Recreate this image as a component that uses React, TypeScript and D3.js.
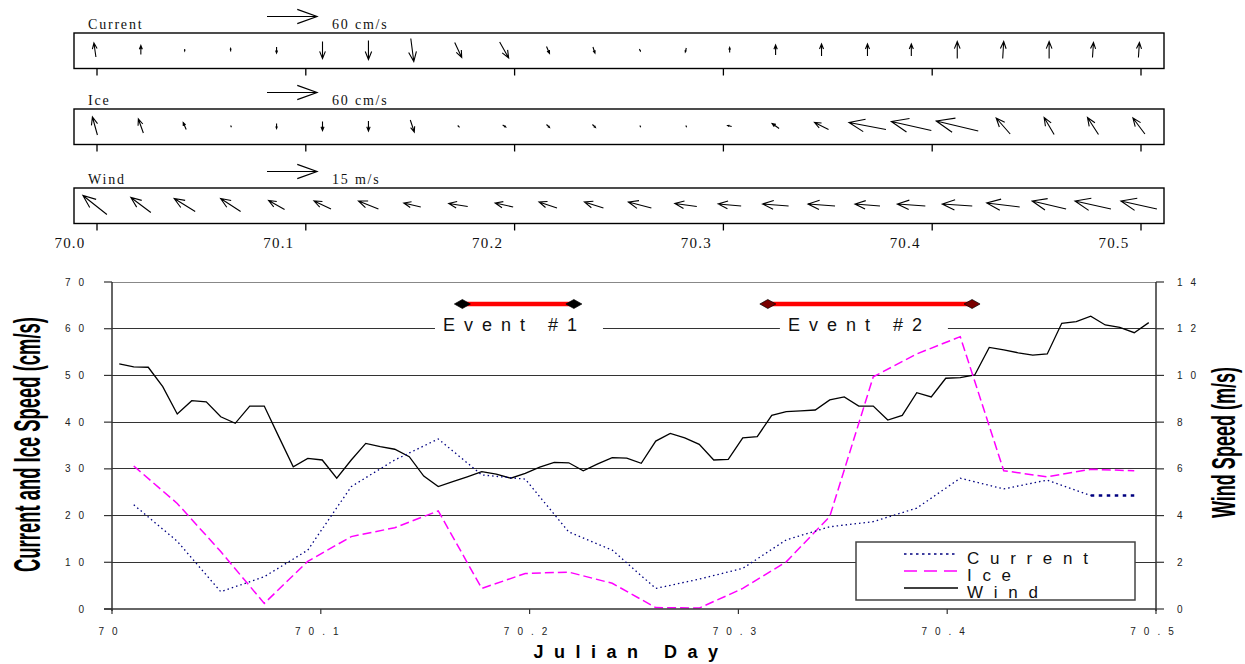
import React from 'react';
import * as d3 from 'd3';

// ---- top panels: stick vectors ----
// Julian day of each vector
const vectorDays = [
  69.999, 70.021, 70.042, 70.064, 70.086, 70.108, 70.13, 70.151, 70.173, 70.195, 70.216, 70.238,
  70.26, 70.282, 70.303, 70.325, 70.347, 70.369, 70.39, 70.412, 70.434, 70.456, 70.477, 70.499,
];
// east / north components (cm/s)
const currentU = [-2.4, 0, 0, 0, 0, 0, 0, 3.6, 8.4, 10.8, 3.6, 2.4, 1.2, -1.2, 0, 0, 0, 0, 0, 0, 1.2, 0, 1.2, 1.2];
const currentV = [16.8, 10.8, -2.4, 3.6, -7.2, -20.4, -22.8, -27.6, -18, -19.2, -8.4, -7.2, -2.4, -4.8, 6, 12, 14.4, 14.4, 14.4, 20.4, 20.4, 20.4, 18, 18];
const iceU = [-6, -6, -3.6, 0, 0, 0, 0, 4.8, 1.2, 3.6, 3.6, 3.6, 0, 0, -4.8, -8.4, -16.8, -44.4, -48, -50.4, -16.8, -12, -13.2, -14.4];
const iceV = [21.6, 16.8, 8.4, -1.2, -6, -10.8, -12, -14.4, -1.2, -2.4, -3.6, -3.6, -1.2, -1.2, 1.2, 6, 8.4, 8.4, 10.8, 12, 19.2, 20.4, 20.4, 19.2];
// east / north components (m/s)
const windU = [-7.2, -6, -6.3, -6, -4.8, -5.1, -6, -5.1, -5.7, -5.4, -5.4, -5.7, -6.9, -6.6, -6.9, -7.8, -8.1, -7.5, -8.4, -9, -9.9, -10.2, -10.8, -10.8];
const windV = [5.7, 4.5, 3.9, 3.9, 2.7, 2.4, 2.4, 1.2, 0.9, 1.2, 1.8, 1.8, 1.8, 0.9, 0.6, 0.6, 0.6, 0.6, 0.6, 0.6, 1.2, 2.4, 2.4, 2.4];

const topTicks = [70.0, 70.1, 70.2, 70.3, 70.4, 70.5];

// ---- bottom chart ----
// minutes after day 70.0
const speedMinutes = [15, 45, 75, 105, 135, 165, 195, 225, 255, 285, 315, 345, 375, 405, 435, 465, 495, 525, 555, 585, 615, 645, 675, 705];
const currentSpeed = [22.3, 14.5, 3.7, 6.9, 12.6, 26.2, 31.9, 36.4, 28.7, 27.8, 16.5, 12.6, 4.4, 6.4, 8.7, 14.8, 17.6, 18.7, 21.6, 28.0, 25.7, 27.6, 24.3, 24.3];
const iceSpeed = [30.6, 22.6, 12.3, 1.2, 10.2, 15.5, 17.4, 21.0, 4.4, 7.6, 7.9, 5.5, 0.3, 0.2, 4.4, 10.1, 19.8, 49.7, 54.6, 58.3, 29.6, 28.3, 29.9, 29.6];

const windMinutes = [
  5, 15, 25, 35, 45, 55, 65, 75, 85, 95,
  105, 115, 125, 135, 145, 155, 165, 175, 185, 195,
  205, 215, 225, 235, 245, 255, 265, 275, 285, 295,
  305, 315, 325, 335, 345, 355, 365, 375, 385, 395,
  405, 415, 425, 435, 445, 455, 465, 475, 485, 495,
  505, 515, 525, 535, 545, 555, 565, 575, 585, 595,
  605, 615, 625, 635, 645, 655, 665, 675, 685, 695,
  705, 715,
];
const windSpeed = [
  10.49, 10.37, 10.35, 9.52, 8.35, 8.92, 8.87, 8.23, 7.95, 8.69,
  8.69, 7.38, 6.09, 6.45, 6.38, 5.6, 6.38, 7.09, 6.95, 6.84,
  6.52, 5.69, 5.24, 5.45, 5.66, 5.88, 5.77, 5.6, 5.81, 6.07,
  6.28, 6.26, 5.92, 6.21, 6.48, 6.46, 6.24, 7.19, 7.52, 7.33,
  7.05, 6.38, 6.41, 7.33, 7.38, 8.29, 8.45, 8.48, 8.52, 8.95,
  9.08, 8.69, 8.69, 8.09, 8.29, 9.26, 9.08, 9.88, 9.91, 10.02,
  11.2, 11.09, 10.97, 10.87, 10.92, 12.23, 12.3, 12.54, 12.16, 12.06,
  11.83, 12.26,
];

const leftTicks = [0, 10, 20, 30, 40, 50, 60, 70];
const rightTicks = [0, 2, 4, 6, 8, 10, 12, 14];
const bottomTicks = [70.0, 70.1, 70.2, 70.3, 70.4, 70.5];
const bottomTickLabels = ['70', '70.1', '70.2', '70.3', '70.4', '70.5'];

const eventLabels = ['Event #1', 'Event #2'];
const eventStart = [70.1678, 70.3141];
const eventEnd = [70.2212, 70.4119];
const eventLabelDay = [70.1906, 70.3558];

const serif = '"Liberation Serif", "Times New Roman", serif';
const sans = '"Liberation Sans", Arial, sans-serif';
const narrow = '"Liberation Sans Narrow", "Arial Narrow", "Liberation Sans", sans-serif';
const capColors = ['#000000', '#7a0000'];

const xTop = d3.scaleLinear().domain([70, 70.5]).range([97, 1141]);
const x = d3.scaleLinear().domain([70, 70.5]).range([112, 1156]);
const yLeft = d3.scaleLinear().domain([0, 70]).range([609, 282]);
const yRight = d3.scaleLinear().domain([0, 14]).range([609, 282]);
const cmsPx = d3.scaleLinear().domain([0, 60]).range([0, 50]);
const msPx = d3.scaleLinear().domain([0, 15]).range([0, 50]);

const dayOf = (m: number) => 70 + m / 1440;

function arrowPath(x0: number, y0: number, x1: number, y1: number, frac = 0.45, deg = 22) {
  const dx = x1 - x0;
  const dy = y1 - y0;
  const len = Math.hypot(dx, dy);
  if (len < 1.5) return `M${x0},${y0}L${x1 + 0.8},${y1 + 0.8}`;
  const a = Math.atan2(dy, dx);
  const h = len * frac;
  const r = (deg * Math.PI) / 180;
  const p = d3.path();
  p.moveTo(x0, y0);
  p.lineTo(x1, y1);
  p.moveTo(x1 - h * Math.cos(a - r), y1 - h * Math.sin(a - r));
  p.lineTo(x1, y1);
  p.lineTo(x1 - h * Math.cos(a + r), y1 - h * Math.sin(a + r));
  return p.toString();
}

const panels = [
  { label: 'Current', u: currentU, v: currentV, px: cmsPx, ref: 60, refLabel: '60 cm/s', top: 33 },
  { label: 'Ice', u: iceU, v: iceV, px: cmsPx, ref: 60, refLabel: '60 cm/s', top: 109 },
  { label: 'Wind', u: windU, v: windV, px: msPx, ref: 15, refLabel: '15 m/s', top: 188 },
];

const App: React.FC = () => {
  const boxH = 35.5;
  const speedLine = d3
    .line<number>()
    .x((_, i) => x(dayOf(speedMinutes[i])))
    .y((d) => yLeft(d));
  const windLine = d3
    .line<number>()
    .x((_, i) => x(dayOf(windMinutes[i])))
    .y((d) => yRight(d));
  const n = currentSpeed.length;
  const tailLine = d3
    .line<number>()
    .x((_, i) => x(dayOf(speedMinutes[n - 2 + i])))
    .y((d) => yLeft(d));

  return (
    <svg width={1245} height={664} style={{ position: 'absolute', left: 0, top: 0, background: '#fff' }}>
      {/* top stick-vector panels */}
      {panels.map((pn, pi) => {
        const cy = pn.top + 17;
        const ay = pn.top - 16.5;
        return (
          <g key={pn.label}>
            <text x={88} y={pn.top - 4.5} fontFamily={serif} fontSize={14} letterSpacing={1.8} fill="#111">
              {pn.label}
            </text>
            <path d={arrowPath(267, ay, 267 + pn.px(pn.ref), ay, 0.42, 20)} stroke="#000" strokeWidth={1.2} fill="none" />
            <text x={332} y={pn.top - 4.5} fontFamily={serif} fontSize={14} letterSpacing={1.8} fill="#111">
              {pn.refLabel}
            </text>
            <rect x={74} y={pn.top} width={1090} height={boxH} fill="none" stroke="#000" strokeWidth={1.4} />
            {topTicks.map((t) => (
              <line key={t} x1={xTop(t)} x2={xTop(t)} y1={pn.top + boxH} y2={pn.top + boxH + 7} stroke="#000" strokeWidth={1.3} />
            ))}
            {vectorDays.map((t, i) => {
              const dx = pn.px(pn.u[i]);
              const dy = -pn.px(pn.v[i]);
              const cx = xTop(t);
              return (
                <path
                  key={i}
                  d={arrowPath(cx - dx / 2, cy - dy / 2, cx + dx / 2, cy + dy / 2)}
                  stroke="#000"
                  strokeWidth={1.1}
                  fill="none"
                />
              );
            })}
            {pi === 2 &&
              topTicks.map((t) => (
                <text key={t} x={xTop(t) - 27} y={248} textAnchor="middle" fontFamily={serif} fontSize={15} letterSpacing={1.2} fill="#111">
                  {t.toFixed(1)}
                </text>
              ))}
          </g>
        );
      })}

      {/* bottom chart gridlines */}
      {leftTicks.slice(1).map((v) => (
        <line key={v} x1={112} x2={1156} y1={yLeft(v)} y2={yLeft(v)} stroke={v === 70 ? '#888' : '#333'} strokeWidth={1} shapeRendering="crispEdges" />
      ))}

      {/* events */}
      {eventLabels.map((lab, i) => {
        const cx = x(eventLabelDay[i]);
        const x0 = x(eventStart[i]);
        const x1 = x(eventEnd[i]);
        const diamond = 'M-8,0L0,-4.5L8,0L0,4.5Z';
        return (
          <g key={lab}>
            <rect x={cx - 75} y={320} width={168} height={16} fill="#fff" />
            <text x={cx + 4.5} y={331} textAnchor="middle" fontFamily={sans} fontSize={18} letterSpacing={9} fill="#111">
              {lab}
            </text>
            <line x1={x0} x2={x1} y1={304} y2={304} stroke="#ff0000" strokeWidth={4.5} />
            <path d={diamond} transform={`translate(${x0},304)`} fill={capColors[i]} stroke="#000" strokeWidth={0.7} />
            <path d={diamond} transform={`translate(${x1},304)`} fill={capColors[i]} stroke="#000" strokeWidth={0.7} />
          </g>
        );
      })}

      {/* data lines */}
      <path d={windLine(windSpeed) || ''} fill="none" stroke="#000" strokeWidth={1.3} />
      <path d={speedLine(iceSpeed) || ''} fill="none" stroke="#ff00ff" strokeWidth={1.5} strokeDasharray="9 4" />
      <path d={speedLine(currentSpeed.slice(0, n - 1)) || ''} fill="none" stroke="#000080" strokeWidth={1.3} strokeDasharray="1.5 3" />
      <path d={tailLine(currentSpeed.slice(n - 2)) || ''} fill="none" stroke="#000080" strokeWidth={2.5} strokeDasharray="3.5 4.5" />

      {/* legend */}
      <rect x={856} y={542} width={279} height={58} fill="#fff" stroke="#444" strokeWidth={1.5} />
      <line x1={904} x2={958} y1={554} y2={554} stroke="#000080" strokeWidth={1.3} strokeDasharray="2.5 3.5" />
      <line x1={904} x2={958} y1={571} y2={571} stroke="#ff00ff" strokeWidth={1.5} strokeDasharray="13 7" />
      <line x1={904} x2={958} y1={588} y2={588} stroke="#000" strokeWidth={1.5} />
      {['Current', 'Ice', 'Wind'].map((t, i) => (
        <text key={t} x={967} y={563.5 + i * 17.3} fontFamily={sans} fontSize={17} letterSpacing={10.7} fill="#111">
          {t}
        </text>
      ))}

      {/* axes */}
      <line x1={112} x2={112} y1={282} y2={611} stroke="#333" strokeWidth={1.5} />
      <line x1={104} x2={1156} y1={609} y2={609} stroke="#333" strokeWidth={1.5} />
      <line x1={1156} x2={1156} y1={282} y2={611} stroke="#333" strokeWidth={1.5} />
      {leftTicks.map((v) => (
        <g key={v}>
          <line x1={104} x2={112} y1={yLeft(v)} y2={yLeft(v)} stroke="#333" strokeWidth={1.2} />
          <text x={92} y={yLeft(v) + 3.5} textAnchor="end" fontFamily={sans} fontSize={10} letterSpacing={8} fill="#222">
            {v}
          </text>
        </g>
      ))}
      {rightTicks.map((v) => (
        <g key={v}>
          <line x1={1156} x2={1164} y1={yRight(v)} y2={yRight(v)} stroke="#333" strokeWidth={1.2} />
          <text x={1177} y={yRight(v) + 3.5} fontFamily={sans} fontSize={10} letterSpacing={8} fill="#222">
            {v}
          </text>
        </g>
      ))}
      {bottomTicks.map((t, i) => (
        <g key={t}>
          <line x1={x(t)} x2={x(t)} y1={609} y2={614} stroke="#333" strokeWidth={1.2} />
          <text x={x(t)} y={635} textAnchor="middle" fontFamily={sans} fontSize={10} letterSpacing={8} fill="#222">
            {bottomTickLabels[i]}
          </text>
        </g>
      ))}

      {/* titles */}
      <text x={631} y={658} textAnchor="middle" fontFamily={sans} fontWeight="bold" fontSize={18} letterSpacing={10.5} fill="#000">
        Julian Day
      </text>
      <text
        transform="translate(40,444.5) rotate(-90)"
        textAnchor="middle"
        fontFamily={narrow}
        fontWeight="bold"
        fontSize={36}
        textLength={255}
        lengthAdjust="spacingAndGlyphs"
        fill="#000"
      >
        Current and Ice Speed (cm/s)
      </text>
      <text
        transform="translate(1235,442.5) rotate(-90)"
        textAnchor="middle"
        fontFamily={narrow}
        fontWeight="bold"
        fontSize={34}
        textLength={151}
        lengthAdjust="spacingAndGlyphs"
        fill="#000"
      >
        Wind Speed (m/s)
      </text>
    </svg>
  );
};

export default App;
